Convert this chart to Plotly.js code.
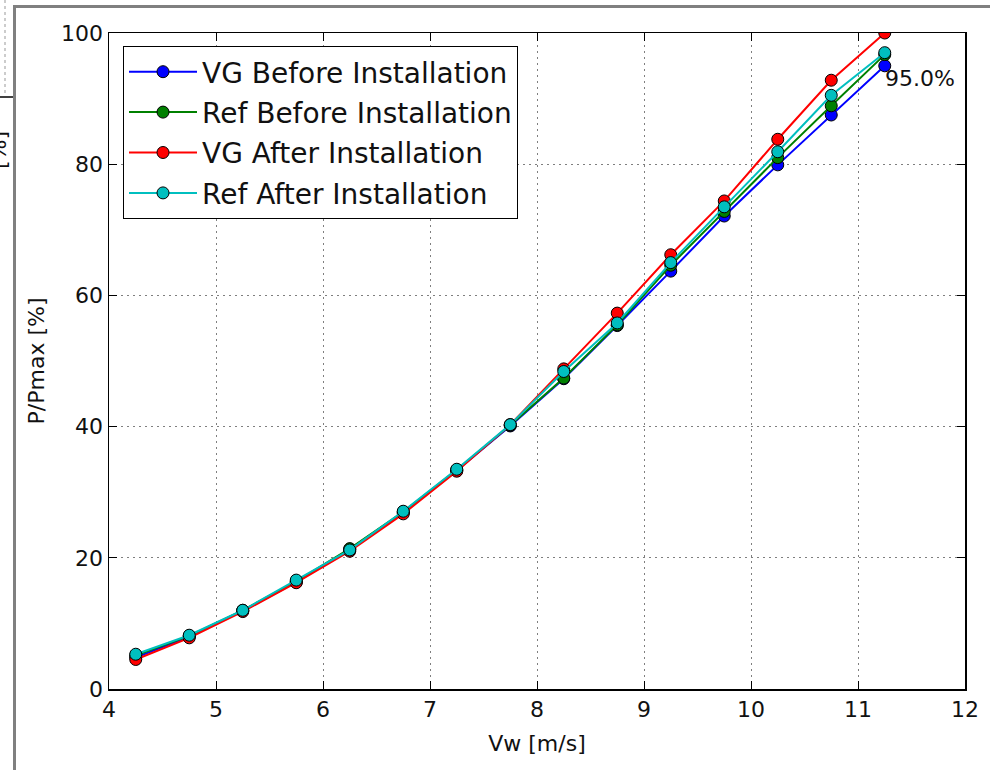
<!DOCTYPE html>
<html>
<head>
<meta charset="utf-8">
<script src="https://cdn.plot.ly/plotly-3.0.1.min.js"></script>
<style>
html,body{margin:0;padding:0;background:#fff;}
#chart{width:990px;height:770px;}
</style>
</head>
<body>
<div id="chart"></div>
<script>
// ---- data ----
const windSpeed = [4.25, 4.75, 5.25, 5.75, 6.25, 6.75, 7.25, 7.75, 8.25, 8.75, 9.25, 9.75, 10.25, 10.75, 11.25];
const vgBefore  = [4.8, 8.0, 11.9, 16.3, 21.3, 26.9, 33.3, 40.1, 47.3, 55.4, 63.7, 72.1, 79.9, 87.5, 95.0];
const refBefore = [5.1, 8.1, 12.0, 16.4, 21.4, 27.0, 33.4, 40.2, 47.4, 55.5, 64.6, 72.8, 81.0, 88.9, 96.7];
const vgAfter   = [4.5, 7.8, 11.8, 16.2, 21.0, 26.7, 33.2, 40.3, 48.8, 57.3, 66.2, 74.4, 83.8, 92.8, 100.0];
const refAfter  = [5.3, 8.2, 12.0, 16.6, 21.2, 27.1, 33.5, 40.3, 48.4, 55.8, 65.0, 73.5, 81.9, 90.5, 97.0];
const seriesNames = ["VG Before Installation", "Ref Before Installation", "VG After Installation", "Ref After Installation"];
const seriesColors = ["#0000ff", "#008000", "#ff0000", "#00bfbf"];
const xTicks = [4, 5, 6, 7, 8, 9, 10, 11, 12];
const yTicks = [0, 20, 40, 60, 80, 100];
const annotLabel = "95.0%";

const FONT = "DejaVu Sans, Liberation Sans, sans-serif";
const allSeries = [vgBefore, refBefore, vgAfter, refAfter];

const traces = allSeries.map((ys, i) => ({
  x: windSpeed,
  y: ys,
  type: "scatter",
  mode: "lines+markers",
  name: seriesNames[i],
  legendgroup: "g" + i,
  line: {color: seriesColors[i], width: 2},
  marker: {color: seriesColors[i], size: 12, line: {color: "#000", width: 1}},
  cliponaxis: true
}));

// pixel helpers for decorations outside the plot (frame artifacts)
const L = 109, R = 965, T = 33, B = 689;
const px = v => (v - L) / (R - L);
const py = v => (B - v) / (B - T);

const layout = {
  width: 990, height: 770,
  margin: {l: L, r: 990 - R, t: T, b: 770 - B, pad: 0},
  paper_bgcolor: "#fff",
  plot_bgcolor: "#fff",
  font: {family: FONT, size: 22, color: "#000"},
  showlegend: true,
  legend: {
    x: px(123), y: py(46), xanchor: "left", yanchor: "top",
    bgcolor: "#fff", bordercolor: "#000", borderwidth: 1,
    font: {family: FONT, size: 28, color: "#111"},
    tracegroupgap: 1,
    itemwidth: 68
  },
  xaxis: {
    range: [4, 12],
    tickvals: xTicks,
    ticktext: xTicks.map(String),
    ticks: "inside", ticklen: 8, tickwidth: 1, tickcolor: "#000",
    showline: true, linecolor: "#000", linewidth: 1.5, mirror: "ticks",
    showgrid: true, gridcolor: "rgba(0,0,0,0.5)", griddash: "2px,4px", gridwidth: 1,
    zeroline: false,
    tickfont: {family: FONT, size: 22, color: "#111"},
    title: {text: "Vw [m/s]", font: {family: FONT, size: 22, color: "#111"}, standoff: 14},
    automargin: false
  },
  yaxis: {
    range: [0, 100],
    tickvals: yTicks,
    ticktext: yTicks.map(String),
    ticks: "inside", ticklen: 8, tickwidth: 1, tickcolor: "#000",
    showline: true, linecolor: "#000", linewidth: 1.5, mirror: "ticks",
    showgrid: true, gridcolor: "rgba(0,0,0,0.5)", griddash: "2px,4px", gridwidth: 1,
    zeroline: false,
    tickfont: {family: FONT, size: 22, color: "#111"},
    title: {text: "P/Pmax [%]", font: {family: FONT, size: 22, color: "#111"}, standoff: 10},
    automargin: false
  },
  annotations: [
    {
      x: windSpeed[windSpeed.length - 1], y: vgBefore[vgBefore.length - 1],
      xref: "x", yref: "y", text: annotLabel, showarrow: false,
      xanchor: "left", yanchor: "top", yshift: 2, xshift: -2,
      font: {family: FONT, size: 22, color: "#111"}
    },
    {
      x: px(-2), y: py(150), xref: "paper", yref: "paper",
      text: "[%]", textangle: -90, showarrow: false,
      xanchor: "center", yanchor: "middle",
      font: {family: FONT, size: 22, color: "#111"}
    }
  ],
  shapes: [
    // screenshot frame lines
    {type: "line", xref: "paper", yref: "paper", x0: px(14.5), x1: px(14.5), y0: py(5), y1: py(772), line: {color: "#808080", width: 3}},
    {type: "line", xref: "paper", yref: "paper", x0: px(13), x1: px(992), y0: py(6.5), y1: py(6.5), line: {color: "#808080", width: 3}},
    {type: "line", xref: "paper", yref: "paper", x0: px(5), x1: px(5), y0: py(0), y1: py(95), line: {color: "#999", width: 1, dash: "dot"}},
    {type: "line", xref: "paper", yref: "paper", x0: px(0), x1: px(13), y0: py(97), y1: py(97), line: {color: "#000", width: 1.5}}
  ]
};

Plotly.newPlot("chart", traces, layout, {displayModeBar: false, staticPlot: true});
</script>
</body>
</html>
